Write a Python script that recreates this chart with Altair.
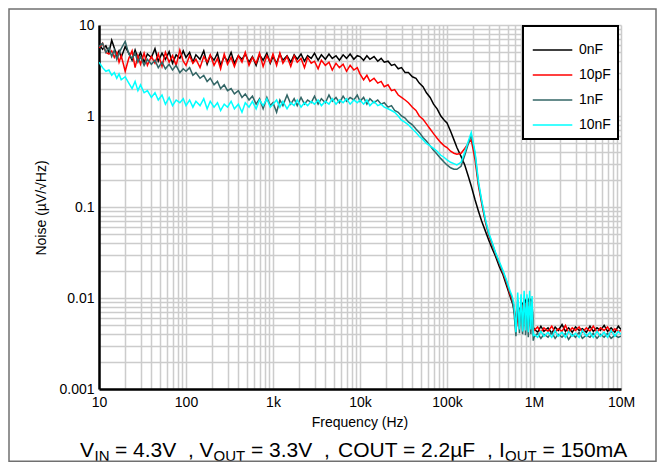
import altair as alt
import pandas as pd

# ---------------- data ----------------
FREQ_A = [10, 11, 12, 13, 14, 15, 16, 17, 18, 20, 22, 24, 26, 28, 30, 33, 36, 40, 44, 48, 53, 58, 64, 70, 77, 85, 93]
FREQ_B = [100, 110, 120, 130, 145, 160, 175, 190, 210, 230, 250, 275, 300, 330, 360, 400, 440, 480, 530, 580, 640, 700, 770, 850, 930]
FREQ_C = [1000, 1100, 1200, 1300, 1450, 1600, 1750, 1900, 2100, 2300, 2500, 2750, 3000, 3300, 3600, 4000, 4400, 4800, 5300, 5800, 6400, 7000, 7700, 8500, 9300]
FREQ_D = [10000, 11000, 12000, 13000, 14500, 16000, 17500, 19000, 21000, 23000, 25000, 27500, 30000, 33000, 36000, 40000, 44000, 48000, 53000, 58000, 64000, 70000, 77000, 85000, 93000]
FREQ_E = [100000, 110000, 120000, 130000, 145000, 160000, 175000, 190000, 210000, 230000, 250000, 275000, 300000, 330000, 360000, 400000, 440000, 480000, 530000, 560000, 590000, 620000, 650000, 680000, 710000, 740000, 770000, 800000, 830000, 860000, 890000, 920000, 950000, 980000]
FREQ_F = [1.0e6, 1.1e6, 1.2e6, 1.3e6, 1.45e6, 1.6e6, 1.75e6, 1.9e6, 2.1e6, 2.3e6, 2.5e6, 2.75e6, 3.0e6, 3.3e6, 3.6e6, 4.0e6, 4.4e6, 4.8e6, 5.3e6, 5.8e6, 6.4e6, 7.0e6, 7.7e6, 8.5e6, 9.3e6, 1.0e7]
FREQ = FREQ_A + FREQ_B + FREQ_C + FREQ_D + FREQ_E + FREQ_F

NOISE_0NF = (
    [6.2, 5.4, 5.9, 5.0, 6.8, 5.6, 4.6, 5.2, 4.4, 5.8, 4.9, 4.1, 5.3, 4.3, 5.0, 3.9, 4.8, 4.4, 5.5, 4.0, 4.9, 4.2, 5.1, 3.8, 4.7, 4.3, 5.2]
    + [4.4, 5.0, 3.9, 4.7, 4.2, 5.2, 3.7, 4.6, 4.1, 4.9, 3.6, 4.5, 4.0, 5.0, 3.8, 4.6, 4.2, 4.8, 3.9, 4.5, 3.6, 4.7, 4.1, 4.9, 3.8]
    + [4.5, 3.8, 4.8, 4.1, 4.6, 3.9, 4.7, 4.2, 4.8, 4.0, 4.6, 4.3, 4.9, 4.1, 4.7, 4.2, 4.8, 4.3, 4.6, 4.1, 4.7, 4.3, 4.8, 4.2, 4.6]
    + [4.5, 4.1, 4.6, 4.2, 4.5, 4.0, 4.3, 3.9, 4.0, 3.6, 3.7, 3.3, 3.4, 3.0, 3.0, 2.7, 2.6, 2.3, 2.1, 1.8, 1.6, 1.35, 1.2, 1.0, 0.9]
    + [0.84, 0.68, 0.55, 0.45, 0.36, 0.29, 0.22, 0.17, 0.12, 0.09, 0.07, 0.055, 0.044, 0.035, 0.029, 0.022, 0.018, 0.014, 0.0105, 0.009, 0.0075, 0.0055, 0.0062, 0.0075, 0.0068, 0.0085, 0.0078, 0.0092, 0.0082, 0.0095, 0.0088, 0.0098, 0.0085, 0.0048]
    + [0.0046, 0.0042, 0.0049, 0.0043, 0.0047, 0.0041, 0.0048, 0.0044, 0.0051, 0.0043, 0.0047, 0.0042, 0.0048, 0.0044, 0.0046, 0.0042, 0.0049, 0.0043, 0.0047, 0.0044, 0.0050, 0.0043, 0.0047, 0.0042, 0.0049, 0.0045]
)
NOISE_10PF = (
    [5.6, 6.3, 5.0, 4.8, 5.2, 4.4, 5.0, 3.9, 4.6, 3.1, 4.3, 5.2, 3.4, 4.6, 3.7, 4.9, 3.6, 4.5, 3.8, 4.8, 3.5, 5.0, 3.9, 4.6, 3.6, 5.3, 4.0]
    + [3.6, 4.6, 3.8, 4.2, 3.4, 4.5, 3.9, 4.7, 3.6, 4.3, 3.3, 4.8, 3.7, 4.4, 3.5, 4.6, 3.9, 5.0, 3.6, 4.4, 3.8, 4.9, 3.5, 4.6, 3.9]
    + [4.8, 3.6, 4.9, 3.8, 4.5, 3.5, 4.6, 3.9, 4.3, 3.4, 4.4, 3.8, 4.0, 3.3, 4.1, 3.6, 3.9, 3.2, 3.8, 3.4, 3.7, 3.1, 3.6, 3.2, 3.4]
    + [2.9, 2.5, 2.8, 2.4, 2.6, 2.3, 2.4, 2.1, 2.2, 1.9, 1.95, 1.7, 1.6, 1.5, 1.4, 1.25, 1.15, 1.0, 0.92, 0.82, 0.72, 0.64, 0.57, 0.51, 0.47]
    + [0.45, 0.41, 0.39, 0.38, 0.39, 0.44, 0.5, 0.55, 0.33, 0.17, 0.11, 0.07, 0.05, 0.039, 0.031, 0.024, 0.019, 0.015, 0.011, 0.0095, 0.008, 0.0045, 0.006, 0.0072, 0.0065, 0.008, 0.0072, 0.0088, 0.0076, 0.009, 0.008, 0.0092, 0.0078, 0.0046]
    + [0.0044, 0.0048, 0.0042, 0.0047, 0.0043, 0.0049, 0.0042, 0.0046, 0.0043, 0.0050, 0.0042, 0.0047, 0.0044, 0.0048, 0.0042, 0.0047, 0.0043, 0.0049, 0.0042, 0.0047, 0.0044, 0.0048, 0.0042, 0.0046, 0.0043, 0.0044]
)
NOISE_1NF = (
    [5.8, 6.3, 5.0, 5.6, 4.5, 5.3, 4.2, 4.9, 5.5, 6.6, 4.8, 4.3, 4.9, 3.9, 4.5, 3.6, 4.2, 3.7, 4.1, 3.4, 3.9, 3.3, 3.7, 3.2, 3.6, 3.0, 3.3]
    + [3.1, 3.4, 2.8, 3.0, 2.6, 2.8, 2.4, 2.6, 2.2, 2.4, 2.0, 2.2, 1.9, 2.0, 1.75, 1.9, 1.6, 1.75, 1.5, 1.65, 1.35, 1.55, 1.2, 1.6, 1.3]
    + [1.4, 1.1, 1.5, 1.3, 1.7, 1.35, 1.55, 1.3, 1.6, 1.35, 1.5, 1.4, 1.65, 1.35, 1.55, 1.4, 1.7, 1.45, 1.6, 1.4, 1.65, 1.45, 1.6, 1.5, 1.7]
    + [1.45, 1.6, 1.35, 1.55, 1.4, 1.5, 1.35, 1.4, 1.25, 1.3, 1.15, 1.1, 1.0, 0.95, 0.86, 0.8, 0.72, 0.66, 0.58, 0.53, 0.47, 0.42, 0.38, 0.34, 0.31]
    + [0.29, 0.27, 0.26, 0.26, 0.28, 0.37, 0.49, 0.62, 0.38, 0.18, 0.115, 0.072, 0.051, 0.04, 0.031, 0.024, 0.0195, 0.0155, 0.0115, 0.01, 0.0068, 0.0038, 0.0095, 0.0041, 0.009, 0.004, 0.01, 0.0039, 0.0095, 0.0037, 0.0098, 0.004, 0.009, 0.0034]
    + [0.0037, 0.0041, 0.0036, 0.0040, 0.0037, 0.0042, 0.0036, 0.0040, 0.0037, 0.0041, 0.0035, 0.0040, 0.0037, 0.0042, 0.0036, 0.0039, 0.0037, 0.0041, 0.0036, 0.0040, 0.0037, 0.0041, 0.0036, 0.0039, 0.0037, 0.0038]
)
NOISE_10NF = (
    [3.9, 3.4, 3.1, 3.2, 2.8, 3.0, 2.6, 2.9, 2.5, 2.7, 2.3, 2.0, 2.4, 1.9, 2.2, 1.8, 1.9, 1.6, 1.8, 1.5, 1.7, 1.35, 1.6, 1.3, 1.5, 1.4, 1.55]
    + [1.3, 1.5, 1.25, 1.45, 1.3, 1.55, 1.2, 1.45, 1.25, 1.4, 1.15, 1.35, 1.25, 1.45, 1.2, 1.35, 1.1, 1.4, 1.25, 1.45, 1.2, 1.5, 1.3, 1.55, 1.25]
    + [1.35, 1.5, 1.25, 1.45, 1.2, 1.4, 1.3, 1.5, 1.25, 1.4, 1.3, 1.45, 1.35, 1.5, 1.3, 1.45, 1.35, 1.55, 1.35, 1.5, 1.4, 1.55, 1.35, 1.5, 1.4]
    + [1.5, 1.35, 1.5, 1.3, 1.45, 1.3, 1.35, 1.25, 1.2, 1.15, 1.1, 1.0, 0.9, 0.85, 0.8, 0.72, 0.66, 0.6, 0.55, 0.5, 0.47, 0.44, 0.41, 0.37, 0.35]
    + [0.33, 0.31, 0.3, 0.29, 0.31, 0.4, 0.52, 0.66, 0.4, 0.19, 0.12, 0.075, 0.053, 0.041, 0.032, 0.025, 0.02, 0.016, 0.012, 0.0105, 0.0085, 0.0042, 0.0115, 0.0045, 0.011, 0.0043, 0.012, 0.0044, 0.011, 0.0042, 0.012, 0.0045, 0.0105, 0.0038]
    + [0.0040, 0.0037, 0.0043, 0.0038, 0.0042, 0.0037, 0.0044, 0.0038, 0.0042, 0.0037, 0.0043, 0.0038, 0.0041, 0.0037, 0.0044, 0.0038, 0.0042, 0.0037, 0.0043, 0.0038, 0.0042, 0.0037, 0.0044, 0.0038, 0.0043, 0.0040]
)

SERIES = ["0nF", "10pF", "1nF", "10nF"]
COLORS = ["#000000", "#ff0000", "#336666", "#00ffff"]
X_LABELS = [10, 100, 1000, 10000, 100000, 1000000, 10000000]
Y_LABELS = [0.001, 0.01, 0.1, 1, 10]
X_TITLE = "Frequency (Hz)"
Y_TITLE = "Noise (µV/√Hz)"

# ---------------- styling / layout ----------------
FONT = "Liberation Sans"
X_GRID = [m * 10 ** e for e in range(1, 7) for m in range(1, 10)] + [10 ** 7]
Y_GRID = [round(m * 10.0 ** e, 6) for e in range(-3, 1) for m in range(1, 10)] + [10]

x_label_expr = "indexof(%s, datum.value) >= 0 ? datum.label : ''" % X_LABELS
y_label_expr = "indexof(%s, datum.value) >= 0 ? datum.label : ''" % Y_LABELS

x_scale = alt.Scale(type="log", domain=[10, 1e7], nice=False)
y_scale = alt.Scale(type="log", domain=[0.001, 10], nice=False)

common_axis = dict(
    grid=True, gridColor="#cccccc", gridWidth=1.5, ticks=False,
    domainColor="#000000", domainWidth=2.5,
    labelFont=FONT, labelFontSize=14, labelColor="#000000",
    labelOverlap=False, labelFlush=False, title=None,
)
x_axis = alt.Axis(values=X_GRID, labelExpr=x_label_expr, format="~s", labelPadding=6, **common_axis)
y_axis = alt.Axis(values=Y_GRID, labelExpr=y_label_expr, format="~g", labelPadding=5, **common_axis)

legend = alt.Legend(
    orient="none", legendX=424, legendY=1, title=None,
    symbolType="M-0.9,0H1.6", symbolSize=1000, symbolStrokeWidth=1.5,
    labelFont=FONT, labelFontSize=14, labelColor="#000000", labelOffset=15,
    padding=7, rowPadding=1, strokeColor="#000000", fillColor="#ffffff",
)
color = alt.Color("cap:N", scale=alt.Scale(domain=SERIES, range=COLORS), legend=legend)

layers = []
for name, vals in zip(SERIES, [NOISE_0NF, NOISE_10PF, NOISE_1NF, NOISE_10NF]):
    df = pd.DataFrame({"freq": FREQ, "noise": vals, "cap": name})
    layers.append(
        alt.Chart(df).mark_line(strokeWidth=1.5, clip=True).encode(
            x=alt.X("freq:Q", scale=x_scale, axis=x_axis),
            y=alt.Y("noise:Q", scale=y_scale, axis=y_axis),
            color=color,
        )
    )

dummy = pd.DataFrame({"a": [0]})


def text(t, x, y, size, angle=0, align="left", baseline="alphabetic"):
    kw = dict(text=t, font=FONT, fontSize=size, color="#000000", align=align, baseline=baseline)
    if angle:
        kw["angle"] = angle
    return alt.Chart(dummy).mark_text(**kw).encode(x=alt.value(x), y=alt.value(y))


# titles
layers.append(text(X_TITLE, 261, 398, 14, align="center", baseline="middle"))
layers.append(text(Y_TITLE, -57, 183, 14, angle=270, align="center", baseline="middle"))

# caption with subscripts (main baseline / subscript baseline)
MAIN_Y, SUB_Y = 432, 435.5
caption_pieces = [
    ("V", 80, 21, MAIN_Y), ("IN", 94.5, 15, SUB_Y), ("= 4.3V", 115, 21, MAIN_Y),
    (",", 188, 21, MAIN_Y), ("V", 199.5, 21, MAIN_Y), ("OUT", 213.5, 15, SUB_Y),
    ("= 3.3V", 251, 21, MAIN_Y), (",", 324, 21, MAIN_Y), ("COUT = 2.2µF", 338, 21, MAIN_Y),
    (",", 487, 21, MAIN_Y), ("I", 499, 21, MAIN_Y), ("OUT", 505, 15, SUB_Y),
    ("= 150mA", 542.5, 21, MAIN_Y),
]
for t, px, size, py in caption_pieces:
    layers.append(text(t, px - 99, py, size))

# outer frame
layers.append(
    alt.Chart(dummy).mark_rect(fillOpacity=0, stroke="#707070", strokeWidth=1.5).encode(
        x=alt.value(-90), x2=alt.value(557), y=alt.value(-16), y2=alt.value(436.2)
    )
)

chart = (
    alt.layer(*layers)
    .properties(
        width=522, height=364,
        autosize=alt.AutoSizeParams(type="none"),
        padding={"left": 91, "top": 17, "right": 37, "bottom": 73},
    )
    .configure_view(strokeWidth=0)
    .configure_legend(strokeWidth=2)
)

chart.save("out.html", embed_options={"renderer": "svg", "actions": False})
